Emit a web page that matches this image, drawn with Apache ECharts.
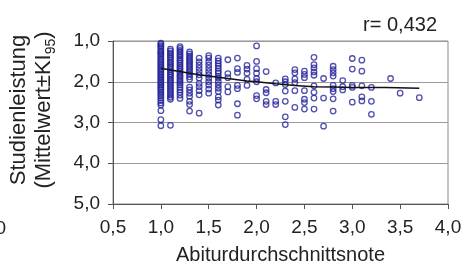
<!DOCTYPE html>
<html>
<head>
<meta charset="utf-8">
<script src="https://cdn.jsdelivr.net/npm/echarts@6/dist/echarts.min.js"></script>
<style>
  html, body { margin: 0; padding: 0; background: #fff; }
  #main { width: 464px; height: 264px; }
</style>
</head>
<body>
<div id="main"></div>
<script>
// Abiturdurchschnittsnote (x) je Spalte
const abiturNoten = [1.0, 1.1, 1.2, 1.3, 1.4, 1.5, 1.6, 1.7, 1.8, 1.9, 2.0, 2.1, 2.2, 2.3,
  2.4, 2.5, 2.6, 2.7, 2.8, 2.9, 3.0, 3.1, 3.2, 3.4, 3.5, 3.7];

// Studienleistung pro Spalte
const studienLeistung = [
  [1.05, 1.08, 1.12, 1.15, 1.2, 1.24, 1.28, 1.31, 1.35, 1.4, 1.44, 1.48, 1.52, 1.56, 1.6, 1.64,
   1.68, 1.72, 1.76, 1.8, 1.84, 1.88, 1.92, 1.96, 2.0, 2.04, 2.08, 2.12, 2.16, 2.2, 2.25, 2.3,
   2.35, 2.4, 2.46, 2.52, 2.57, 2.71, 2.93, 3.08],
  [1.2, 1.24, 1.29, 1.33, 1.38, 1.42, 1.47, 1.52, 1.56, 1.61, 1.65, 1.7, 1.75, 1.8, 1.84, 1.89,
   1.94, 1.98, 2.03, 2.08, 2.13, 2.18, 2.23, 2.28, 2.33, 2.38, 2.43, 3.07],
  [1.14, 1.18, 1.23, 1.27, 1.32, 1.36, 1.41, 1.46, 1.5, 1.55, 1.6, 1.65, 1.69, 1.74, 1.79, 1.84,
   1.88, 1.93, 1.98, 2.03, 2.08, 2.14, 2.2, 2.26, 2.33, 2.41],
  [1.27, 1.32, 1.37, 1.42, 1.47, 1.52, 1.57, 1.62, 1.67, 1.72, 1.77, 1.82, 1.88, 1.94, 2.13, 2.2,
   2.28, 2.36, 2.48, 2.56, 2.72],
  [1.42, 1.51, 1.59, 1.67, 1.75, 1.83, 1.91, 2.04, 2.12, 2.22, 2.32, 2.77],
  [1.36, 1.42, 1.51, 1.59, 1.67, 1.75, 1.83, 1.91, 2.0, 2.08, 2.18, 2.28],
  [1.42, 1.49, 1.55, 1.61, 1.67, 1.74, 1.79, 1.86, 1.91, 2.0, 2.08, 2.16, 2.24, 2.37, 2.45, 2.57],
  [1.46, 1.8, 1.9, 2.12, 2.25],
  [1.42, 1.68, 1.77, 2.09, 2.17, 2.54, 2.82],
  [1.6, 1.69, 1.79, 1.94, 2.09],
  [1.12, 1.5, 1.68, 1.79, 1.92, 2.0, 2.34, 2.42],
  [1.75, 2.19, 2.27, 2.48, 2.56],
  [2.03, 2.48, 2.56],
  [1.93, 2.0, 2.07, 2.23, 2.48, 2.86, 3.05],
  [1.7, 1.78, 1.93, 2.02, 2.22, 2.63],
  [1.74, 1.82, 1.9, 2.22, 2.43, 2.51, 2.67],
  [1.4, 1.58, 1.66, 1.76, 1.84, 2.1, 2.26, 2.4, 2.67],
  [1.92, 2.4, 3.09],
  [1.62, 1.7, 1.78, 1.86, 2.09, 2.17, 2.24, 2.42, 2.72],
  [1.97, 2.12, 2.2],
  [1.43, 1.69, 2.09, 2.14, 2.5],
  [1.47, 1.74, 2.1, 2.37, 2.47],
  [2.14, 2.48, 2.8],
  [1.92],
  [2.28],
  [2.39]
];

// Trendlinie
const trendX = [1.0, 1.1, 1.2, 1.3, 1.4, 1.5, 1.6, 1.7, 1.8, 1.9, 2.0, 2.2, 2.4, 2.6, 2.8, 3.0, 3.35, 3.36, 3.7];
const trendY = [1.67, 1.71, 1.75, 1.79, 1.83, 1.86, 1.89, 1.92, 1.95, 1.98, 2.0, 2.05, 2.09, 2.12, 2.13, 2.14, 2.14, 2.16, 2.16];

const xTicks = [0.5, 4.0];
const yTicks = [1.0, 5.0];

const FONT = '"Liberation Sans", Arial, Helvetica, sans-serif';

const punkte = [];
abiturNoten.forEach((x, i) => {
  studienLeistung[i].forEach(y => punkte.push([x, y]));
});
const trend = trendX.map((x, i) => [x, trendY[i]]);

const komma = v => v.toFixed(1).replace('.', ',');

const chart = echarts.init(document.getElementById('main'));
chart.setOption({
  animation: false,
  grid: {
    left: 113, right: 16, top: 41, bottom: 60,
    outerBoundsMode: 'none',
    show: true, borderColor: '#8a8a8a', borderWidth: 1
  },
  xAxis: {
    type: 'value',
    min: xTicks[0], max: xTicks[1], interval: 0.5,
    name: 'Abiturdurchschnittsnote',
    nameLocation: 'middle',
    nameGap: 41,
    nameTextStyle: { fontFamily: FONT, fontSize: 20, color: '#222' },
    axisLine: { show: true, lineStyle: { color: '#555' } },
    axisTick: { show: true, length: 5, lineStyle: { color: '#555' } },
    axisLabel: { margin: 14, fontFamily: FONT, fontSize: 19, color: '#222', formatter: komma },
    splitLine: { show: false }
  },
  yAxis: {
    type: 'value',
    inverse: true,
    min: yTicks[0], max: yTicks[1], interval: 1,
    axisLine: { show: true, lineStyle: { color: '#555' } },
    axisTick: { show: true, length: 5, lineStyle: { color: '#555' } },
    axisLabel: { margin: 13, fontFamily: FONT, fontSize: 19, color: '#222', formatter: komma },
    splitLine: { show: true, lineStyle: { color: '#9a9a9a' } }
  },
  graphic: [
    {
      type: 'text',
      x: 33, y: 110,
      rotation: Math.PI / 2,
      style: {
        text: '{a|Studienleistung}\n{a|(Mittelwert±KI}{s|95}{a|)}',
        align: 'center',
        verticalAlign: 'middle',
        fill: '#222',
        rich: {
          a: { fontFamily: FONT, fontSize: 22, lineHeight: 25, verticalAlign: 'top', color: '#222' },
          s: { fontFamily: FONT, fontSize: 14, lineHeight: 14, verticalAlign: 'bottom', color: '#222' }
        }
      }
    },
    {
      type: 'text',
      x: 437, y: 25,
      style: { text: 'r= 0,432', font: '20px ' + FONT, fill: '#222', align: 'right', verticalAlign: 'middle' }
    },
    {
      type: 'text',
      x: 6, y: 229,
      style: { text: '0', font: '19px ' + FONT, fill: '#222', align: 'right', verticalAlign: 'middle' }
    }
  ],
  series: [
    {
      type: 'scatter',
      data: punkte,
      symbol: 'circle',
      symbolSize: 5.5,
      itemStyle: { color: 'rgba(255,255,255,0)', borderColor: '#24249a', borderWidth: 1.3 }
    },
    {
      type: 'line',
      data: trend,
      showSymbol: false,
      lineStyle: { color: '#111', width: 1.5 },
      z: 3
    }
  ]
});
</script>
</body>
</html>
